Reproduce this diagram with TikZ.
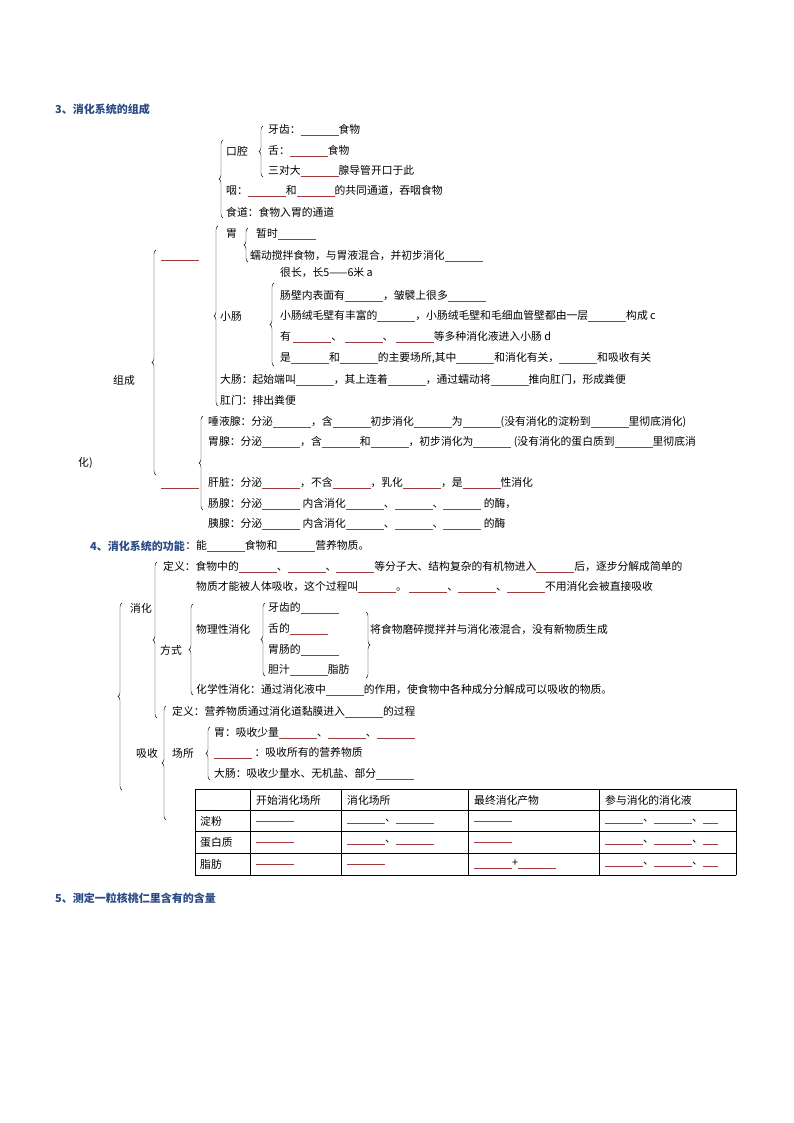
\documentclass[tikz,border=0pt]{standalone}
\usepackage{fontspec}
\setmainfont{Noto Sans CJK SC}
\usetikzlibrary{decorations.pathreplacing,positioning}
\definecolor{blankred}{HTML}{9E3B3B}
\definecolor{headblue}{HTML}{2B4B86}
\newcommand\bk{\textcolor{blankred}{\rule[-2pt]{38pt}{0.7pt}}}
\newcommand\bks{\textcolor{blankred}{\rule[-2pt]{15pt}{0.7pt}}}

\begin{document}
\begin{tikzpicture}[x=1pt,y=-1pt,
    txt/.style={anchor=west,inner sep=0pt,font=\fontsize{10.8}{12}\selectfont},
    head/.style={txt,text=headblue,font=\fontsize{11}{12}\selectfont\bfseries},
    kuo/.style={decorate,decoration={brace,amplitude=4pt},thin},
    rkuo/.style={decorate,decoration={brace,amplitude=4pt},thin}]
\useasboundingbox (0,0) rectangle (794,1123);
% section 3
\node[head] (h3) at (55,109) {3、消化系统的组成};
\node[txt] (kq) at (226,151) {口腔};
\node[txt] (yc) at (268,130) {牙齿：\bk 食物};
\node[txt] (she) at (268,151) {舌：\bk 食物};
\node[txt] (sd) at (268,171) {三对大\bk 腺导管开口于此};
\draw[kuo] (263,177) -- (263,126);
\node[txt] (yan) at (226,191) {咽：\bk 和\bk 的共同通道，吞咽食物};
\node[txt] (sdao) at (226,212) {食道：食物入胃的通道};
\draw[kuo] (223,218) -- (223,140);
\node[txt] (wei) at (226,234) {胃};
\node[txt] (zs) at (256,234) {暂时\bk};
\node[txt] (rd) at (250,256) {蠕动搅拌食物，与胃液混合，并初步消化\bk};
\draw[kuo] (248,262) -- (248,228);
\node[txt] (xc) at (220,316) {小肠};
\node[txt] (c1) at (280,273) {很长，长5——6米 a};
\node[txt] (c2) at (280,296) {肠壁内表面有\bk ，皱襞上很多\bk};
\node[txt] (c3) at (280,316) {小肠绒毛壁有丰富的\bk ，小肠绒毛壁和毛细血管壁都由一层\bk 构成 c};
\node[txt] (c4) at (280,337) {有 \bk 、 \bk 、 \bk 等多种消化液进入小肠 d};
\node[txt] (c5) at (280,358) {是\bk 和\bk 的主要场所,其中\bk 和消化有关，\bk 和吸收有关};
\draw[kuo] (274,366) -- (274,283);
\node[txt] (dc) at (220,380) {大肠：起始端叫\bk ，其上连着\bk ，通过蠕动将\bk 推向肛门，形成粪便};
\node[txt] (gm) at (220,400) {肛门：排出粪便};
\draw[kuo] (218,406) -- (218,226);
\node[txt] (b1) at (161,260) {\bk};
\node[txt] (zc) at (113,380) {组成};
\draw[kuo] (156,475) -- (156,250);
\node[txt] (ty) at (208,422) {唾液腺：分泌\bk ，含\bk 初步消化\bk 为\bk (没有消化的淀粉到\bk 里彻底消化)};
\node[txt] (wx) at (208,442) {胃腺：分泌\bk ，含\bk 和\bk ，初步消化为\bk \ (没有消化的蛋白质到\bk 里彻底消};
\node[txt] (hua) at (78,463) {化)};
\node[txt] (gz) at (208,483) {肝脏：分泌\bk ，不含\bk ，乳化\bk ，是\bk 性消化};
\node[txt] (cx) at (208,504) {肠腺：分泌\bk \ 内含消化\bk 、\bk 、\bk \ 的酶，};
\node[txt] (yx) at (208,524) {胰腺：分泌\bk \ 内含消化\bk 、\bk 、\bk \ 的酶};
\node[txt] (b2) at (161,488) {\bk};
\draw[kuo] (203,510) -- (203,416);
% section 4
\node[head] (h4) at (90,546) {4、消化系统的功能};
\node[txt,right=0pt of h4] (gn) {：能\bk 食物和\bk 营养物质。};
\node[txt] (dy) at (163,567) {定义：食物中的\bk 、\bk 、\bk 等分子大、结构复杂的有机物进入\bk 后，逐步分解成简单的};
\node[txt] (dy2) at (196,587) {物质才能被人体吸收，这个过程叫\bk 。 \bk 、\bk 、\bk 不用消化会被直接吸收};
\node[txt] (xh) at (130,608) {消化};
\draw[kuo] (157,718) -- (157,562);
\node[txt] (fs) at (160,650) {方式};
\node[txt] (wl) at (196,629) {物理性消化};
\node[txt] (p1) at (268,608) {牙齿的\bk};
\node[txt] (p2) at (268,629) {舌的\bk};
\node[txt] (p3) at (268,650) {胃肠的\bk};
\node[txt] (p4) at (268,670) {胆汁\bk 脂肪};
\draw[kuo] (265,676) -- (265,603);
\draw[rkuo] (366,612) -- (366,678);
\node[txt] (mp) at (370,629) {将食物磨碎搅拌并与消化液混合，没有新物质生成};
\node[txt] (hx) at (196,690) {化学性消化：通过消化液中\bk 的作用，使食物中各种成分分解成可以吸收的物质。};
\draw[kuo] (193,695) -- (193,604);
\draw[kuo] (122,790) -- (122,603);
\node[txt] (xs) at (136,753) {吸收};
\draw[kuo] (166,820) -- (166,706);
\node[txt] (dy3) at (172,712) {定义：营养物质通过消化道黏膜进入\bk 的过程};
\node[txt] (cs) at (172,753) {场所};
\node[txt] (s1) at (214,733) {胃：吸收少量\bk 、\bk 、\bk};
\node[txt] (s2) at (214,753) {\bk \ ：吸收所有的营养物质};
\node[txt] (s3) at (214,774) {大肠：吸收少量水、无机盐、部分\bk};
\draw[kuo] (210,780) -- (210,727);
% table
\foreach \y in {789,810,831,853,875} \draw[thin] (195,\y) -- (736,\y);
\foreach \x in {195,250,341,468,599,736} \draw[thin] (\x,789) -- (\x,875);
\foreach \x/\t in {256/开始消化场所,347/消化场所,474/最终消化产物,605/参与消化的消化液}
  \node[txt] at (\x,800) {\t};
\foreach \y/\t in {821/淀粉,842/蛋白质,864/脂肪} {
  \node[txt] at (200,\y) {\t};
  \node[txt] at (256,\y) {\bk};
  \node[txt] at (474,\y) {\ifnum\y=864 \bk +\bk\else\bk\fi};
  \node[txt] at (605,\y) {\bk 、\bk 、\bks};
}
\node[txt] at (347,821) {\bk 、\bk};
\node[txt] at (347,842) {\bk 、\bk};
\node[txt] at (347,864) {\bk};
% section 5
\node[head] (h5) at (55,898) {5、测定一粒核桃仁里含有的含量};
\end{tikzpicture}
\end{document}
